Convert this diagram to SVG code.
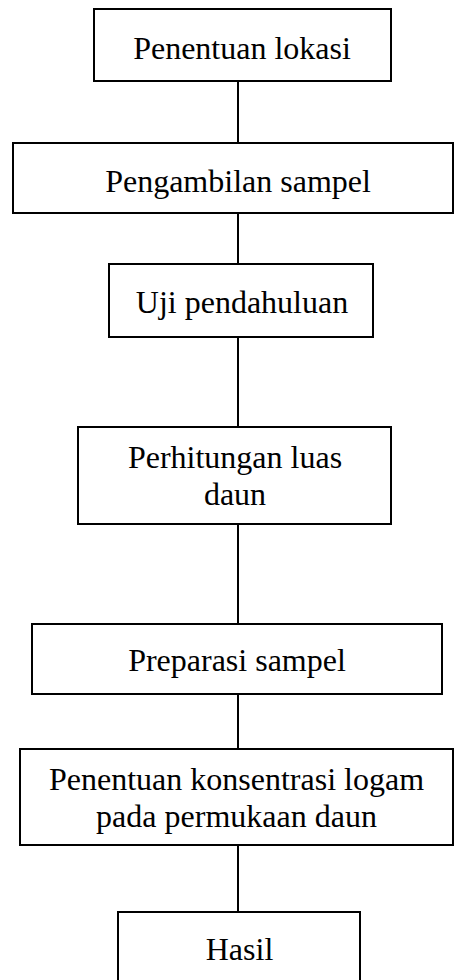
<svg xmlns="http://www.w3.org/2000/svg" width="454" height="980" viewBox="0 0 454 980">
<style>
.box{fill:#fff;stroke:#000;stroke-width:2}
.lbl{font-family:"Liberation Serif","Times New Roman",serif;font-size:32px;fill:#000;text-anchor:middle}
.con{stroke:#000;stroke-width:2;fill:none}
</style>
<rect width="454" height="980" fill="#fff"/>
<g id="connectors">
<line class="con" x1="238" y1="81" x2="238" y2="143"/>
<line class="con" x1="238" y1="213" x2="238" y2="264"/>
<line class="con" x1="238" y1="337" x2="238" y2="427"/>
<line class="con" x1="238" y1="524" x2="238" y2="624"/>
<line class="con" x1="238" y1="694" x2="238" y2="749"/>
<line class="con" x1="238" y1="845" x2="238" y2="912"/>
</g>
<g id="n1"><rect class="box" x="94" y="9" width="297" height="72"/><text class="lbl" x="242" y="59">Penentuan lokasi</text></g>
<g id="n2"><rect class="box" x="13" y="143" width="440" height="70"/><text class="lbl" x="238" y="192">Pengambilan sampel</text></g>
<g id="n3"><rect class="box" x="109" y="264" width="264" height="73"/><text class="lbl" x="242" y="313">Uji pendahuluan</text></g>
<g id="n4"><rect class="box" x="78" y="427" width="313" height="97"/><text class="lbl" x="235" y="468">Perhitungan luas</text><text class="lbl" x="235" y="505">daun</text></g>
<g id="n5"><rect class="box" x="32" y="624" width="410" height="70"/><text class="lbl" x="237" y="671">Preparasi sampel</text></g>
<g id="n6"><rect class="box" x="20" y="749" width="433" height="96"/><text class="lbl" x="236.5" y="790">Penentuan konsentrasi logam</text><text class="lbl" x="236.5" y="827">pada permukaan daun</text></g>
<g id="n7"><rect class="box" x="118" y="912" width="242" height="80"/><text class="lbl" x="239.5" y="960">Hasil</text></g>
</svg>
